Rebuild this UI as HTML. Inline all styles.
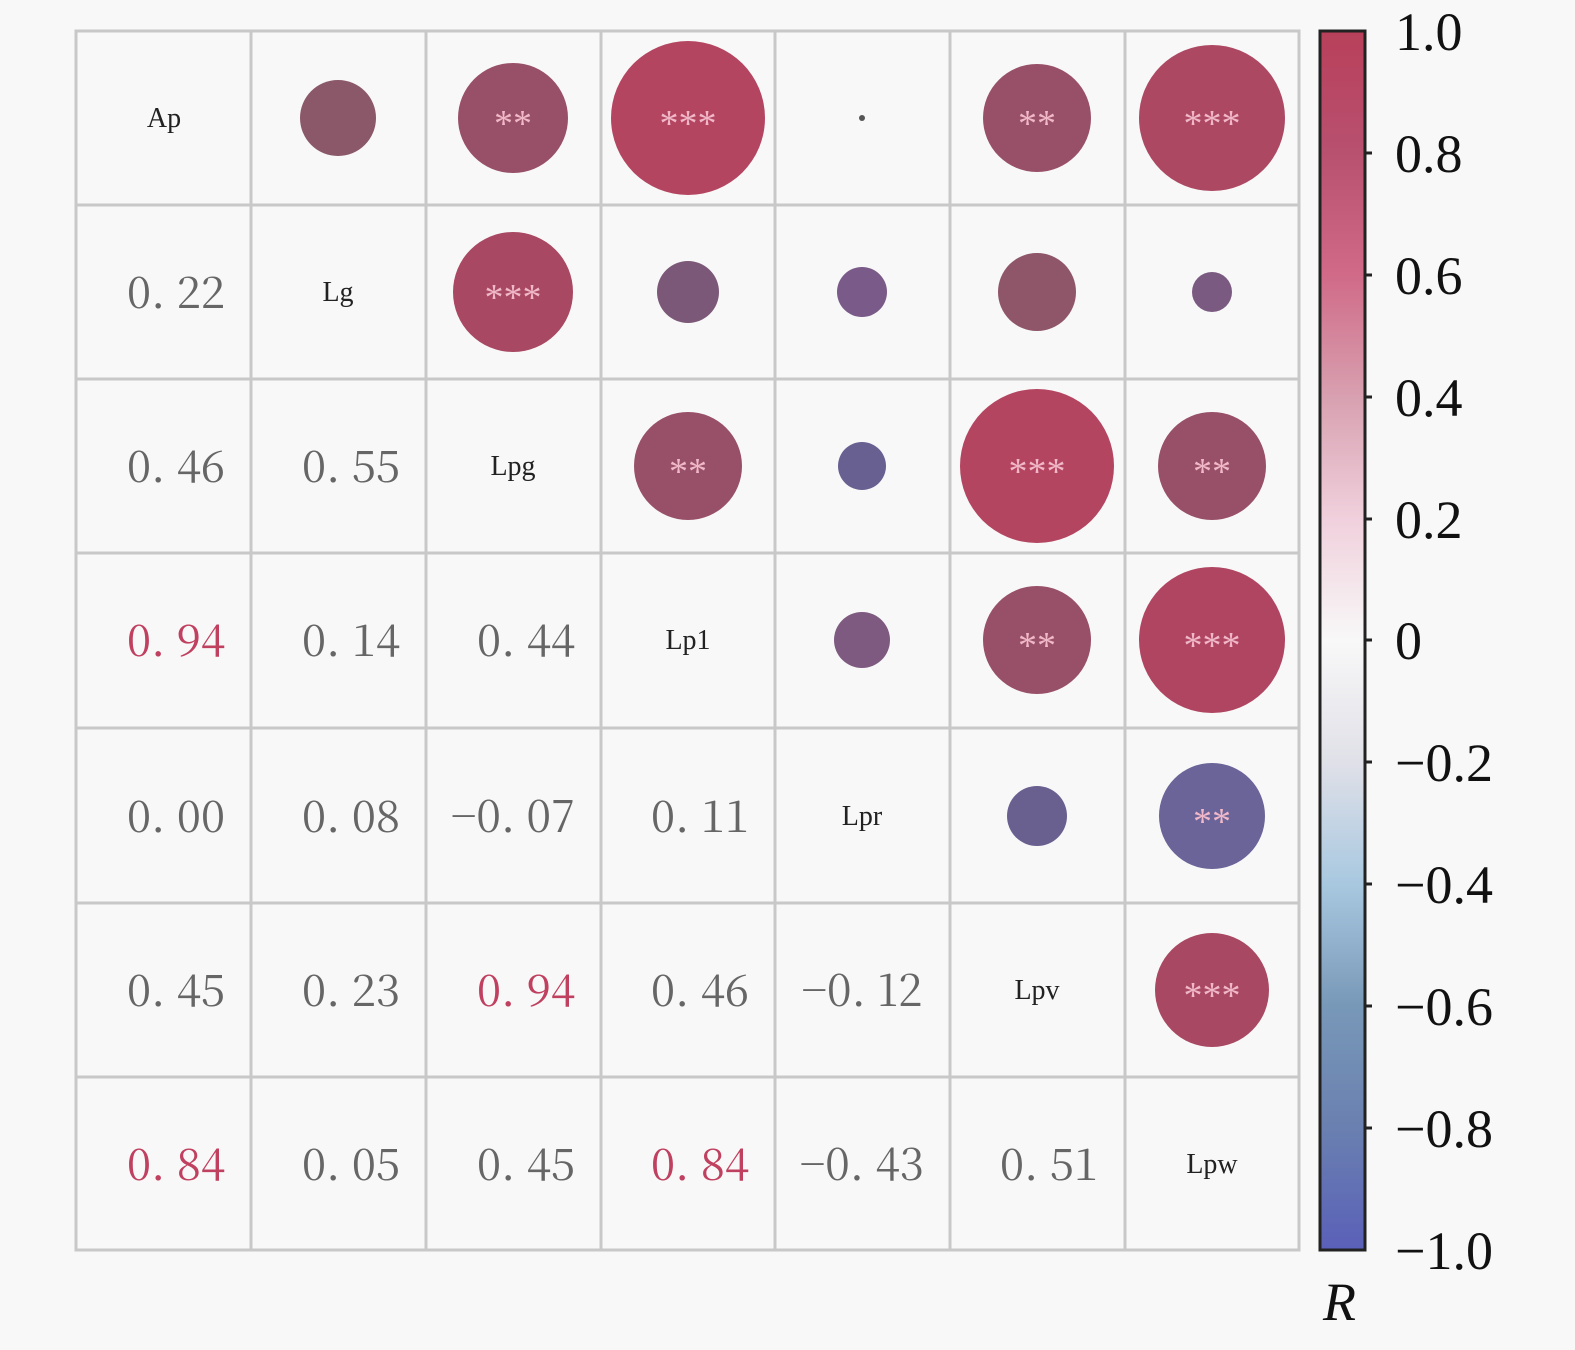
<!DOCTYPE html>
<html><head><meta charset="utf-8"><style>
html,body{margin:0;padding:0;background:#f8f8f8;}
</style></head><body>
<svg width="1575" height="1345" xmlns="http://www.w3.org/2000/svg">
<defs>
<linearGradient id="cb" x1="0" y1="0" x2="0" y2="1">
<stop offset="0" stop-color="#b8405a"/>
<stop offset="0.1" stop-color="#b85070"/>
<stop offset="0.2" stop-color="#d06a88"/>
<stop offset="0.3" stop-color="#d8a0b0"/>
<stop offset="0.4" stop-color="#f0d0dc"/>
<stop offset="0.5" stop-color="#f8f8f8"/>
<stop offset="0.6" stop-color="#e0e0e8"/>
<stop offset="0.7" stop-color="#a8c8e0"/>
<stop offset="0.8" stop-color="#7898b8"/>
<stop offset="0.9" stop-color="#6a80b0"/>
<stop offset="1" stop-color="#5a60b8"/>
</linearGradient>
</defs>
<rect width="1575" height="1345" fill="#f8f8f8"/>
<g stroke="#c8c8c8" stroke-width="3" fill="none">
<rect x="76" y="31" width="1223" height="1219"/>
<line x1="251" y1="31" x2="251" y2="1250"/><line x1="426" y1="31" x2="426" y2="1250"/>
<line x1="601" y1="31" x2="601" y2="1250"/><line x1="775" y1="31" x2="775" y2="1250"/>
<line x1="950" y1="31" x2="950" y2="1250"/><line x1="1125" y1="31" x2="1125" y2="1250"/>
<line x1="76" y1="205" x2="1299" y2="205"/><line x1="76" y1="379" x2="1299" y2="379"/>
<line x1="76" y1="553" x2="1299" y2="553"/><line x1="76" y1="728" x2="1299" y2="728"/>
<line x1="76" y1="903" x2="1299" y2="903"/><line x1="76" y1="1077" x2="1299" y2="1077"/>
</g>
<g>
<circle cx="338" cy="118" r="38" fill="#8a5868"/>
<circle cx="513" cy="118" r="55" fill="#985068"/>
<circle cx="688" cy="118" r="77" fill="#b44560"/>
<circle cx="862" cy="118" r="3" fill="#555"/>
<circle cx="1037" cy="118" r="54" fill="#985068"/>
<circle cx="1212" cy="118" r="73" fill="#ac4862"/>
<circle cx="513" cy="292" r="60" fill="#a84862"/>
<circle cx="688" cy="292" r="31" fill="#7c5878"/>
<circle cx="862" cy="292" r="25" fill="#7a5a88"/>
<circle cx="1037" cy="292" r="39" fill="#8e5668"/>
<circle cx="1212" cy="292" r="20" fill="#7a5a80"/>
<circle cx="688" cy="466" r="54" fill="#985068"/>
<circle cx="862" cy="466" r="24" fill="#686090"/>
<circle cx="1037" cy="466" r="77" fill="#b44560"/>
<circle cx="1212" cy="466" r="54" fill="#985068"/>
<circle cx="862" cy="640" r="28" fill="#7e5a80"/>
<circle cx="1037" cy="640" r="54" fill="#985068"/>
<circle cx="1212" cy="640" r="73" fill="#b04562"/>
<circle cx="1037" cy="816" r="30" fill="#6a6090"/>
<circle cx="1212" cy="816" r="53" fill="#6a6498"/>
<circle cx="1212" cy="990" r="57" fill="#a84862"/>
</g>
<g font-family="'Liberation Serif',serif" font-size="38" fill="#f0b8c8" text-anchor="middle">
<text x="513" y="136">**</text><text x="688" y="136">***</text><text x="1037" y="136">**</text><text x="1212" y="136">***</text>
<text x="513" y="310">***</text>
<text x="688" y="484">**</text><text x="1037" y="484">***</text><text x="1212" y="484">**</text>
<text x="1037" y="658">**</text><text x="1212" y="658">***</text>
<text x="1212" y="834">**</text>
<text x="1212" y="1008">***</text>
</g>
<g font-family="'Liberation Serif',serif" font-size="28" fill="#222" text-anchor="middle">
<text x="164" y="127">Ap</text><text x="338" y="301">Lg</text><text x="513" y="475">Lpg</text>
<text x="688" y="649">Lp1</text><text x="862" y="825">Lpr</text><text x="1037" y="999">Lpv</text><text x="1212" y="1173">Lpw</text>
</g>
<g font-family="'Noto Serif CJK SC','Liberation Serif',serif" font-size="44" fill="#666" text-anchor="middle">
<text x="176" y="308">0. 22</text>
<text x="176" y="482">0. 46</text><text x="351" y="482">0. 55</text>
<text x="176" y="656" fill="#c04060">0. 94</text><text x="351" y="656">0. 14</text><text x="526" y="656">0. 44</text>
<text x="176" y="832">0. 00</text><text x="351" y="832">0. 08</text><text x="513" y="832">−0. 07</text><text x="700" y="832">0. 11</text>
<text x="176" y="1006">0. 45</text><text x="351" y="1006">0. 23</text><text x="526" y="1006" fill="#c04060">0. 94</text><text x="700" y="1006">0. 46</text><text x="862" y="1006">−0. 12</text>
<text x="176" y="1180" fill="#c04060">0. 84</text><text x="351" y="1180">0. 05</text><text x="526" y="1180">0. 45</text><text x="700" y="1180" fill="#c04060">0. 84</text><text x="862" y="1180">−0. 43</text><text x="1049" y="1180">0. 51</text>
</g>
<rect x="1320" y="31" width="45" height="1219" fill="url(#cb)" stroke="#222" stroke-width="3"/>
<g stroke="#222" stroke-width="3">
<line x1="1365" y1="153" x2="1372" y2="153"/><line x1="1365" y1="275" x2="1372" y2="275"/><line x1="1365" y1="397" x2="1372" y2="397"/>
<line x1="1365" y1="519" x2="1372" y2="519"/><line x1="1365" y1="640" x2="1372" y2="640"/><line x1="1365" y1="762" x2="1372" y2="762"/>
<line x1="1365" y1="884" x2="1372" y2="884"/><line x1="1365" y1="1006" x2="1372" y2="1006"/><line x1="1365" y1="1128" x2="1372" y2="1128"/>
</g>
<g font-family="'Liberation Serif',serif" font-size="54" fill="#111">
<text x="1395" y="50">1.0</text><text x="1395" y="172">0.8</text><text x="1395" y="294">0.6</text><text x="1395" y="416">0.4</text>
<text x="1395" y="538">0.2</text><text x="1395" y="659">0</text><text x="1395" y="781">−0.2</text><text x="1395" y="903">−0.4</text>
<text x="1395" y="1025">−0.6</text><text x="1395" y="1147">−0.8</text><text x="1395" y="1269">−1.0</text>
<text x="1323" y="1320" font-style="italic">R</text>
</g>
</svg>
</body></html>
